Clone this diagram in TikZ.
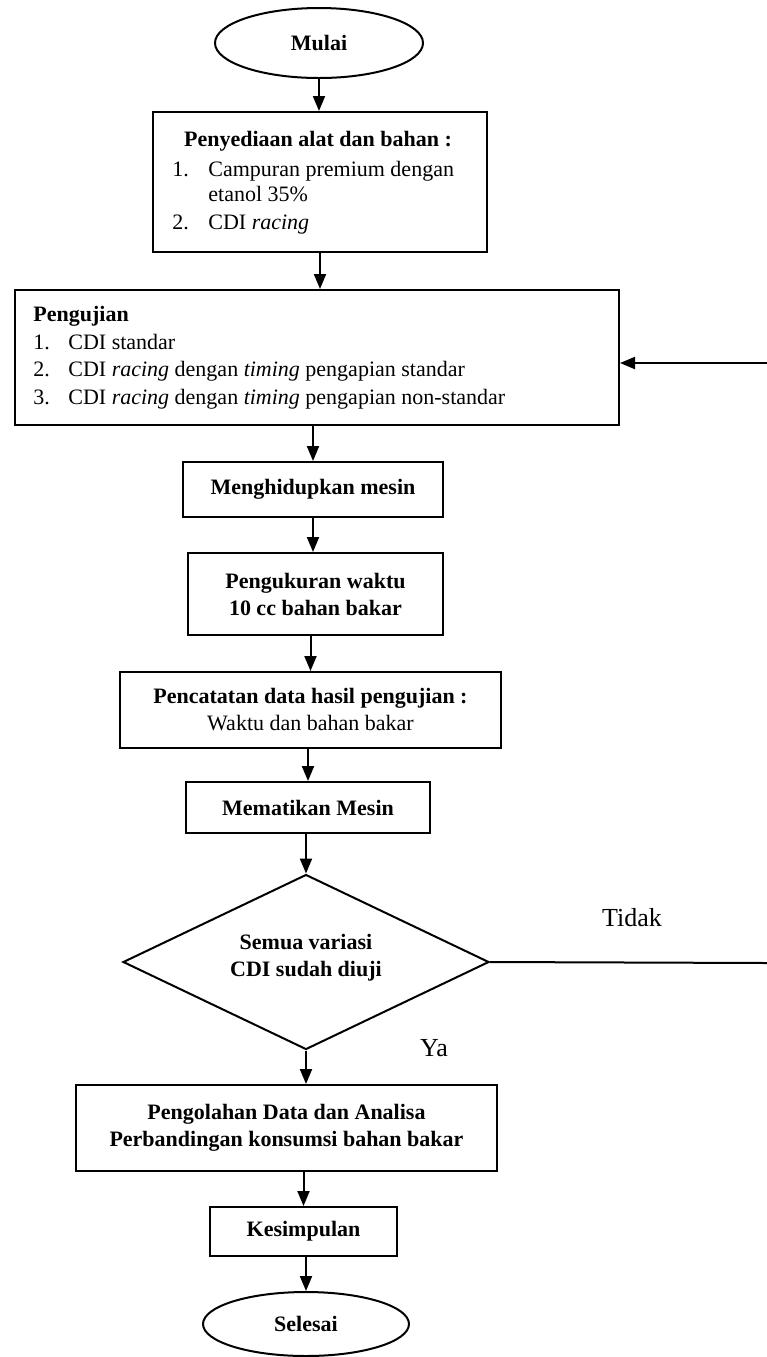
\documentclass[tikz,border=0pt]{standalone}
\usepackage{fontspec}
\setmainfont{Liberation Serif}
\usetikzlibrary{shapes.geometric,arrows.meta}
\begin{document}
\begin{tikzpicture}[x=0.5pt,y=-0.5pt,
  basefont/.style={font=\fontsize{11}{13.5}\selectfont},
  boldfont/.style={font=\bfseries\fontsize{11}{13.5}\selectfont},
  box/.style={draw,line width=1pt,inner sep=0pt,align=center,boldfont},
  term/.style={draw,ellipse,line width=1pt,inner sep=0pt,boldfont},
  dec/.style={draw,diamond,aspect=2,line width=1pt,inner sep=0pt,align=center,boldfont},
  txt/.style={inner sep=0pt,anchor=base west,basefont},
  lbl/.style={inner sep=0pt,font=\fontsize{13}{15}\selectfont},
  line/.style={line width=1pt},
  arr/.style={line width=1pt,-{Triangle[length=7.5pt,width=6pt]}}]
\useasboundingbox (0,0) rectangle (767,1357);

% Start
\node[term,minimum width=104pt,minimum height=35pt] (mulai) at (319,43) {Mulai};

% Preparation box
\node[box,minimum width=167pt,minimum height=70pt] (siap) at (320,182) {};
\node[txt,anchor=base,boldfont] (siapH) at (318,146) {Penyediaan alat dan bahan :};
\node[txt] (s1n) at (172,176) {1.};
\node[txt] (s1t) at (208,176) {Campuran premium dengan};
\node[txt] (s1c) at (208,201) {etanol 35\%};
\node[txt] (s2n) at (172,229) {2.};
\node[txt] (s2t) at (208,229) {CDI \textit{racing}};

% Testing box
\node[box,minimum width=302pt,minimum height=67.5pt] (uji) at (317,357.5) {};
\node[txt,boldfont] (ujiH) at (33,321) {Pengujian};
\node[txt] (u1n) at (33,349) {1.};
\node[txt] (u1t) at (68,349) {CDI standar};
\node[txt] (u2n) at (33,376) {2.};
\node[txt] (u2t) at (68,376) {CDI \textit{racing} dengan \textit{timing} pengapian standar};
\node[txt] (u3n) at (33,404) {3.};
\node[txt] (u3t) at (68,404) {CDI \textit{racing} dengan \textit{timing} pengapian non-standar};

% Process boxes
\node[box,minimum width=130pt,minimum height=27.5pt] (mhd) at (313,489.5) {Menghidupkan mesin};
\node[box,minimum width=127.5pt,minimum height=41pt] (ukur) at (315.5,594) {Pengukuran waktu\\10 cc bahan bakar};
\node[box,minimum width=190.5pt,minimum height=38pt] (catat) at (310.5,710) {Pencatatan data hasil pengujian :\\\mdseries Waktu dan bahan bakar};
\node[box,minimum width=122pt,minimum height=25.5pt] (mati) at (308,807.5) {Mematikan Mesin};

% Decision
\node[dec,minimum width=183pt,minimum height=87.5pt] (dec) at (306,962) {Semua variasi\\CDI sudah diuji\rule[-7pt]{0pt}{0pt}};

% Lower boxes
\node[box,minimum width=210.5pt,minimum height=43pt] (olah) at (286.5,1128) {Pengolahan Data dan Analisa\\Perbandingan konsumsi bahan bakar};
\node[box,minimum width=93.5pt,minimum height=24.5pt] (kes) at (303.5,1231.5) {Kesimpulan};
\node[term,minimum width=103pt,minimum height=32pt] (sel) at (306,1324) {Selesai};

% Labels
\node[lbl] (tidak) at (632,918) {Tidak};
\node[lbl] (ya) at (434,1048) {Ya};

% Free ends at the right edge
\coordinate (tEnd) at (767,963);
\coordinate (fStart) at (767,363);

% Connectors
\draw[arr] (mulai.south) -- (mulai.south |- siap.north);
\draw[arr] (siap.south) -- (siap.south |- uji.north);
\draw[arr] (mhd.north |- uji.south) -- (mhd.north);
\draw[arr] (mhd.south) -- (mhd.south |- ukur.north);
\draw[arr] (catat.north |- ukur.south) -- (catat.north);
\draw[arr] (mati.north |- catat.south) -- (mati.north);
\draw[arr] (dec.north |- mati.south) -- (dec.north);
\draw[arr] (dec.south) -- (dec.south |- olah.north);
\draw[arr] (kes.north |- olah.south) -- (kes.north);
\draw[arr] (sel.north |- kes.south) -- (sel.north);
\draw[line] (dec.east) -- (tEnd);
\draw[arr] (fStart) -- (fStart -| uji.east);
\end{tikzpicture}
\end{document}
